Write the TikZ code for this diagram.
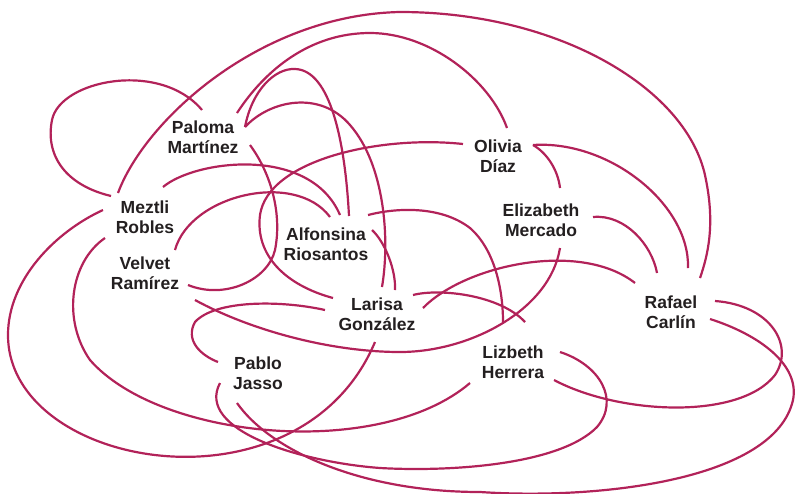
\documentclass[tikz,border=0pt]{standalone}
\usepackage{fontspec}
\setmainfont{Liberation Sans}
\definecolor{edge}{RGB}{178,34,89}
\definecolor{txt}{RGB}{35,31,32}
\begin{document}
\begin{tikzpicture}[x=1pt,y=-1pt,
  link/.style={draw=edge, line width=2.2pt},
  person/.style={align=center, font=\fontsize{17.5}{20}\selectfont\bfseries, text=txt, inner sep=0pt}]
\useasboundingbox (0,0) rectangle (795,493);
\node[person] (paloma) at (203,137) {Paloma\\Martínez};
\node[person] (meztli) at (145,217) {Meztli\\Robles};
\node[person] (velvet) at (145,273) {Velvet\\Ramírez};
\node[person] (alfonsina) at (326,244) {Alfonsina\\Riosantos};
\node[person] (larisa) at (377,314) {Larisa\\González};
\node[person] (olivia) at (498,156) {Olivia\\Díaz};
\node[person] (elizabeth) at (541,220) {Elizabeth\\Mercado};
\node[person] (lizbeth) at (513,362) {Lizbeth\\Herrera};
\node[person] (rafael) at (671,312) {Rafael\\Carlín};
\node[person] (pablo) at (258,373) {Pablo\\Jasso};

\draw[link] ([shift={(-34,-21)}]meztli.center) .. controls (65,185) and (45,155) .. (52,120) .. controls (60,80) and (160,60) .. ([shift={(-1,-27)}]paloma.center);
\draw[link] ([shift={(-27,-24)}]meztli.center) .. controls (145,120) and (260,15) .. (400,12) .. controls (560,12) and (690,90) .. (706,180) .. controls (715,225) and (708,255) .. ([shift={(29,-34)}]rafael.center);
\draw[link] ([shift={(18,-30)}]meztli.center) .. controls (195,160) and (310,145) .. ([shift={(14,-29)}]alfonsina.center);
\draw[link] ([shift={(-42,-7)}]meztli.center) .. controls (55,232) and (8,280) .. (8,335) .. controls (8,470) and (300,520) .. ([shift={(-2,28)}]larisa.center);
\draw[link] ([shift={(-40,21)}]meztli.center) .. controls (70,262) and (62,320) .. (90,360) .. controls (160,440) and (380,460) .. ([shift={(-43,21)}]lizbeth.center);
\draw[link] ([shift={(34,-24)}]paloma.center) .. controls (265,70) and (310,33) .. (370,33) .. controls (430,33) and (490,80) .. ([shift={(9,-28)}]olivia.center);
\draw[link] ([shift={(42,-10)}]paloma.center) .. controls (252,90) and (275,68) .. (295,69) .. controls (330,70) and (345,140) .. ([shift={(23,-28)}]alfonsina.center);
\draw[link] ([shift={(42,-10)}]paloma.center) .. controls (270,100) and (320,90) .. (350,125) .. controls (385,165) and (390,240) .. ([shift={(5,-27)}]larisa.center);
\draw[link] ([shift={(47,8)}]paloma.center) .. controls (272,175) and (282,215) .. (275,250) .. controls (268,280) and (225,300) .. ([shift={(43,12)}]velvet.center);
\draw[link] ([shift={(30,-23)}]velvet.center) .. controls (190,195) and (295,170) .. ([shift={(4,-27)}]alfonsina.center);
\draw[link] ([shift={(50,27)}]velvet.center) .. controls (250,330) and (330,352) .. (400,352) .. controls (470,352) and (550,310) .. ([shift={(19,28)}]elizabeth.center);
\draw[link] ([shift={(42,-29)}]alfonsina.center) .. controls (395,208) and (440,205) .. (470,228) .. controls (495,250) and (503,290) .. ([shift={(-10,-40)}]lizbeth.center);
\draw[link] ([shift={(46,-14)}]alfonsina.center) .. controls (385,242) and (396,270) .. ([shift={(18,-24)}]larisa.center);
\draw[link] ([shift={(-44,-16)}]larisa.center) .. controls (285,285) and (255,255) .. (260,215) .. controls (268,160) and (380,135) .. ([shift={(-35,-12)}]olivia.center);
\draw[link] ([shift={(-52,-4)}]larisa.center) .. controls (280,300) and (215,300) .. (195,322) .. controls (185,340) and (200,355) .. ([shift={(-40,-11)}]pablo.center);
\draw[link] ([shift={(36,-19)}]larisa.center) .. controls (440,288) and (500,295) .. ([shift={(12,-40)}]lizbeth.center);
\draw[link] ([shift={(46,-6)}]larisa.center) .. controls (465,265) and (580,240) .. ([shift={(-36,-29)}]rafael.center);
\draw[link] ([shift={(35,-11)}]olivia.center) .. controls (547,153) and (558,170) .. ([shift={(19,-32)}]elizabeth.center);
\draw[link] ([shift={(35,-11)}]olivia.center) .. controls (610,140) and (690,205) .. ([shift={(17,-44)}]rafael.center);
\draw[link] ([shift={(52,-3)}]elizabeth.center) .. controls (625,214) and (652,245) .. ([shift={(-14,-39)}]rafael.center);
\draw[link] ([shift={(44,-11)}]rafael.center) .. controls (770,305) and (795,345) .. (775,375) .. controls (740,420) and (620,415) .. ([shift={(41,18)}]lizbeth.center);
\draw[link] ([shift={(39,7)}]rafael.center) .. controls (760,335) and (800,365) .. (793,400) .. controls (775,480) and (600,500) .. (480,492) .. controls (360,492) and (270,450) .. ([shift={(-21,30)}]pablo.center);
\draw[link] ([shift={(47,-10)}]lizbeth.center) .. controls (600,365) and (620,400) .. (597,427) .. controls (560,465) and (450,472) .. (380,468) .. controls (300,462) and (195,430) .. ([shift={(-38,10)}]pablo.center);
\end{tikzpicture}
\end{document}
